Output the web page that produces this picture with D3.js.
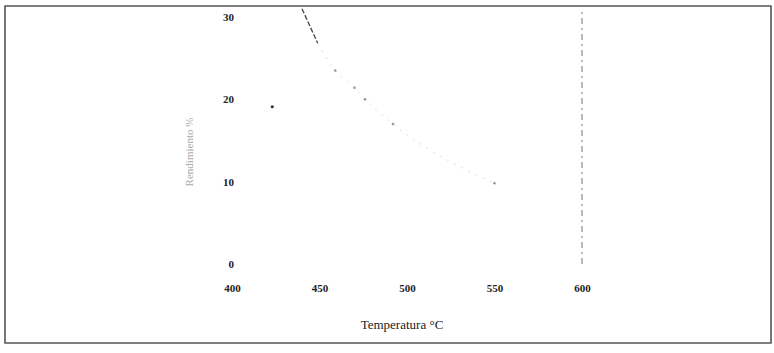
<!DOCTYPE html>
<html>
<head>
<meta charset="utf-8">
<script src="https://cdn.jsdelivr.net/npm/d3@7"></script>
<style>
  html, body { margin: 0; padding: 0; background: #fff; }
  svg { display: block; }
  .tick text { font-family: "Liberation Serif", "DejaVu Serif", serif; font-weight: bold; fill: #222; }
</style>
</head>
<body>
<script>
// Curve: temperature (°C) vs. value
const temperatura = [440, 449, 459, 470, 476, 492, 550];
const valores = [31, 26.8, 23.5, 21.4, 20.0, 17.0, 9.8];

// Single isolated reading
const puntoTemp = [423];
const puntoValor = [19.1];

// Vertical reference line at 600 °C
const refTemp = [600, 600];
const refValor = [0, 31];

const xTicks = [400, 450, 500, 550, 600];
const yTicks = [0, 10, 20, 30];

const W = 774, H = 353;
const svg = d3.select("body").append("svg").attr("width", W).attr("height", H);

// Outer frame
svg.append("path")
  .attr("d", "M5,343 L5,6 L771,6 L771,343 Z")
  .attr("fill", "none").attr("stroke", "#555").attr("stroke-width", 1.6);

const x = d3.scaleLinear().domain([400, 600]).range([232, 582]);
const y = d3.scaleLinear().domain([0, 30]).range([264, 17]);

const clip = svg.append("clipPath").attr("id", "plot")
  .append("rect").attr("x", 6).attr("y", 7).attr("width", 764).attr("height", 335);

// X axis (labels only)
const gx = svg.append("g")
  .attr("transform", "translate(0,284)")
  .call(d3.axisBottom(x).tickValues(xTicks).tickSize(0).tickPadding(0).tickFormat(d3.format("d")));
gx.select(".domain").remove();
gx.selectAll("text").attr("font-size", 11).attr("dy", "0.71em");

// Y axis (labels only)
const gy = svg.append("g")
  .attr("transform", "translate(234,0)")
  .call(d3.axisLeft(y).tickValues(yTicks).tickSize(0).tickPadding(0).tickFormat(d3.format("d")));
gy.select(".domain").remove();
gy.selectAll("text").attr("font-size", 11).attr("text-anchor", "end");

// Axis titles
svg.append("text")
  .attr("x", 402).attr("y", 329)
  .attr("text-anchor", "middle")
  .attr("font-family", "Liberation Serif, DejaVu Serif, serif")
  .attr("font-size", 13).attr("fill", "#222")
  .text("Temperatura °C");

svg.append("text")
  .attr("transform", "translate(193,152) rotate(-90)")
  .attr("text-anchor", "middle")
  .attr("font-family", "Liberation Serif, DejaVu Serif, serif")
  .attr("font-size", 11).attr("fill", "#aaa")
  .text("Rendimiento %");

const g = svg.append("g").attr("clip-path", "url(#plot)");

// Vertical reference line
g.append("path")
  .datum(refTemp.map((t, i) => [t, refValor[i]]))
  .attr("d", d3.line().x(d => x(d[0])).y(d => y(d[1])))
  .attr("fill", "none").attr("stroke", "#888").attr("stroke-width", 1.2)
  .attr("stroke-dasharray", "6,4,2,4");

// Curve
const pts = temperatura.map((t, i) => [t, valores[i]]);
g.append("path")
  .datum(pts.slice(0, 2))
  .attr("d", d3.line().x(d => x(d[0])).y(d => y(d[1])))
  .attr("fill", "none").attr("stroke", "#444").attr("stroke-width", 1.3)
  .attr("stroke-dasharray", "5,2");
g.append("path")
  .datum(pts.slice(1))
  .attr("d", d3.line().curve(d3.curveMonotoneX).x(d => x(d[0])).y(d => y(d[1])))
  .attr("fill", "none").attr("stroke", "#ddd").attr("stroke-width", 1)
  .attr("stroke-dasharray", "2,6");

g.selectAll("circle.curva")
  .data(pts.slice(2))
  .join("circle").attr("class", "curva")
  .attr("cx", d => x(d[0])).attr("cy", d => y(d[1]))
  .attr("r", 1.3).attr("fill", "#999");

g.selectAll("circle.punto")
  .data(puntoTemp.map((t, i) => [t, puntoValor[i]]))
  .join("circle").attr("class", "punto")
  .attr("cx", d => x(d[0])).attr("cy", d => y(d[1]))
  .attr("r", 1.6).attr("fill", "#333");
</script>
</body>
</html>
